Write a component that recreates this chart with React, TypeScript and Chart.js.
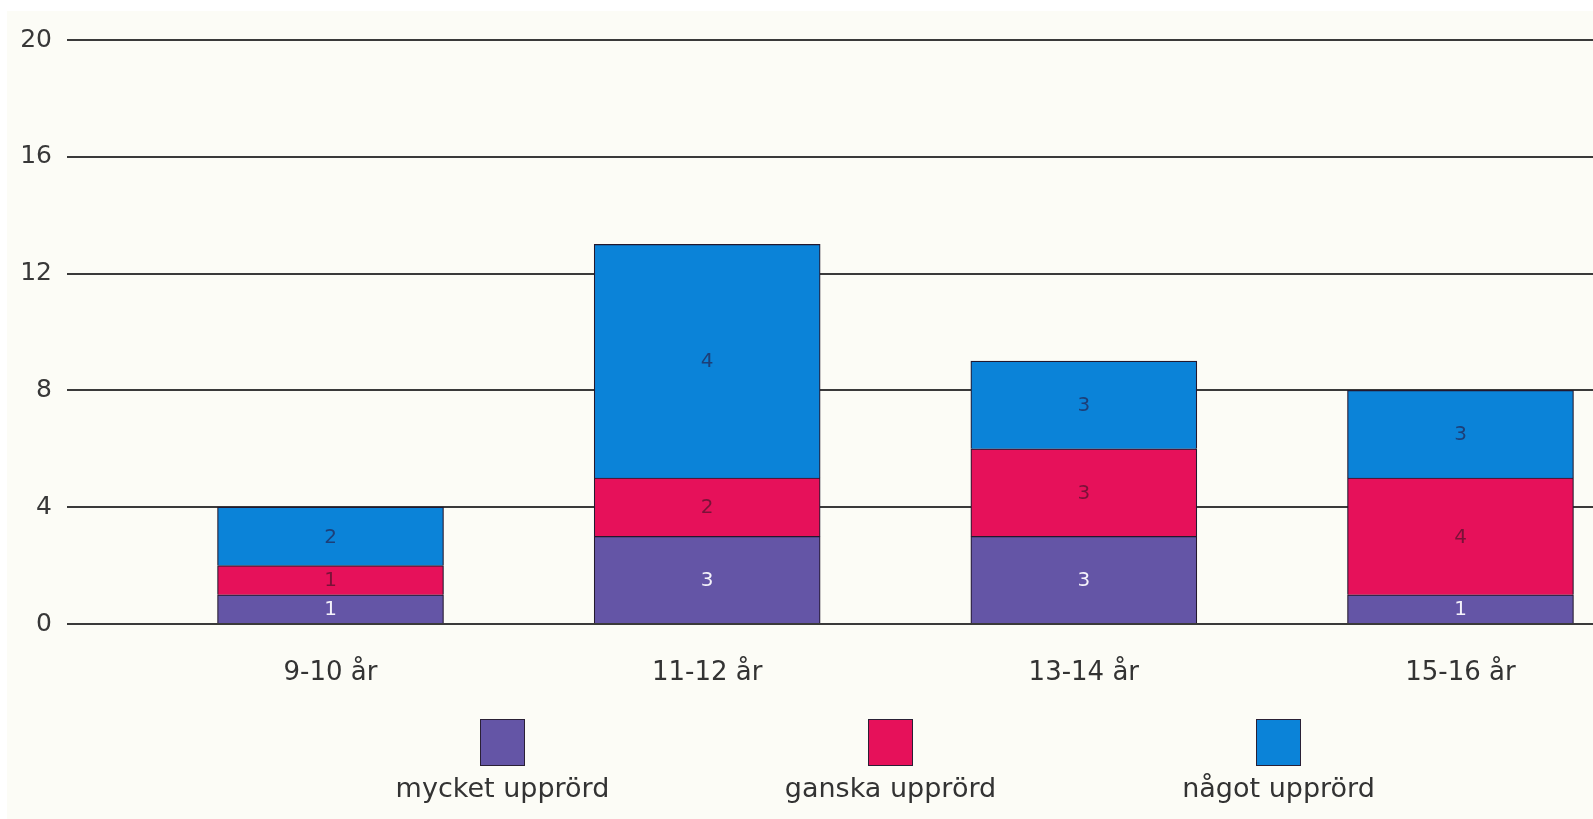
import React, { useEffect, useRef } from "react";
import { Chart, registerables } from "chart.js";

Chart.register(...registerables);

const categories = ["9-10 år", "11-12 år", "13-14 år", "15-16 år"];
const seriesNames = ["mycket upprörd", "ganska upprörd", "något upprörd"];
const mycketValues = [1, 3, 3, 1];
const ganskaValues = [1, 2, 3, 4];
const nagotValues = [2, 8, 3, 3];
// numbers printed inside the segments (as printed in the source)
const mycketPrinted = ["1", "3", "3", "1"];
const ganskaPrinted = ["1", "2", "3", "4"];
const nagotPrinted = ["2", "4", "3", "3"];
const yTicks = [0, 4, 8, 12, 16, 20];

const colors = ["#6455a6", "#e6115a", "#0b83d8"];
const printedColors = ["#f4f2fa", "#7a1238", "#1d3f78"];

const W = 1593;
const H = 819;

export default function App() {
  const ref = useRef<HTMLCanvasElement | null>(null);

  useEffect(() => {
    if (!ref.current) return;
    const positions = categories.map((_, i) => i + 1);
    const allValues = [mycketValues, ganskaValues, nagotValues];
    const allPrinted = [mycketPrinted, ganskaPrinted, nagotPrinted];

    const labelPlugin = {
      id: "segLabels",
      afterDatasetsDraw(chart: any) {
        const ctx = chart.ctx;
        ctx.save();
        ctx.font = "20px 'DejaVu Sans'";
        ctx.textAlign = "center";
        ctx.textBaseline = "middle";
        chart.data.datasets.forEach((ds: any, di: number) => {
          const meta = chart.getDatasetMeta(di);
          meta.data.forEach((el: any, i: number) => {
            const p = el.getCenterPoint();
            ctx.fillStyle = printedColors[di];
            ctx.fillText(allPrinted[di][i], p.x, p.y + 1);
          });
        });
        ctx.restore();
      },
    };

    const chart = new Chart(ref.current, {
      type: "bar",
      data: {
        datasets: allValues.map((vals, di) => ({
          label: seriesNames[di],
          data: vals.map((v, i) => ({ x: positions[i], y: v })),
          backgroundColor: colors[di],
          borderColor: "#23182e",
          borderWidth: 1.2,
          barThickness: 226,
        })),
      },
      options: {
        responsive: false,
        animation: false,
        devicePixelRatio: 1,
        layout: { padding: { top: 40, right: 0, bottom: 0, left: 0 } },
        plugins: {
          legend: { display: false },
          tooltip: { enabled: false },
        },
        scales: {
          x: {
            type: "linear",
            stacked: true,
            offset: false,
            bounds: "ticks",
            min: 0.3004,
            max: 4.3518,
            grid: { display: false, drawTicks: false, offset: false },
            border: { display: false },
            afterDataLimits(scale: any) {
              scale.min = 0.3004;
              scale.max = 4.3518;
            },
            afterBuildTicks(scale: any) {
              scale.ticks = positions.map((v) => ({ value: v }));
            },
            afterFit(scale: any) {
              scale.height = H - 624;
            },
            ticks: {
              autoSkip: false,
              maxRotation: 0,
              padding: 34,
              color: "#333333",
              font: { family: "DejaVu Sans", size: 26 },
              callback: (v: any) => categories[Number(v) - 1] ?? "",
            },
          },
          y: {
            stacked: true,
            min: 0,
            max: 20,
            afterBuildTicks(scale: any) {
              scale.ticks = yTicks.map((v) => ({ value: v }));
            },
            afterFit(scale: any) {
              scale.width = 67;
            },
            grid: {
              color: "#3a3a3a",
              lineWidth: 2,
              drawTicks: false,
            },
            border: { display: false },
            ticks: {
              padding: 15,
              color: "#383838",
              font: { family: "DejaVu Sans", size: 25 },
            },
          },
        },
      },
      plugins: [labelPlugin],
    });
    return () => chart.destroy();
  }, []);

  const legendBoxes = [
    { left: 480, color: colors[0], name: seriesNames[0] },
    { left: 868, color: colors[1], name: seriesNames[1] },
    { left: 1256, color: colors[2], name: seriesNames[2] },
  ];

  return (
    <div
      style={{
        position: "absolute",
        left: 0,
        top: 0,
        width: W,
        height: H,
        background: "#ffffff",
        overflow: "hidden",
        fontFamily: "'DejaVu Sans'",
      }}
    >
      <div
        style={{
          position: "absolute",
          left: 7,
          top: 11,
          right: 0,
          bottom: 0,
          background: "#fcfcf6",
        }}
      />
      <canvas
        ref={ref}
        width={W}
        height={H}
        style={{ position: "absolute", left: 0, top: 0, width: W, height: H }}
      />
      {legendBoxes.map((b) => (
        <React.Fragment key={b.name}>
          <div
            style={{
              position: "absolute",
              left: b.left,
              top: 719,
              width: 45,
              height: 47,
              boxSizing: "border-box",
              background: b.color,
              border: "1.5px solid #2a2035",
            }}
          />
          <div
            style={{
              position: "absolute",
              left: b.left + 22.5 - 150,
              width: 300,
              top: 774,
              textAlign: "center",
              fontSize: 27,
              lineHeight: "27px",
              color: "#333333",
              whiteSpace: "nowrap",
            }}
          >
            {b.name}
          </div>
        </React.Fragment>
      ))}
    </div>
  );
}
